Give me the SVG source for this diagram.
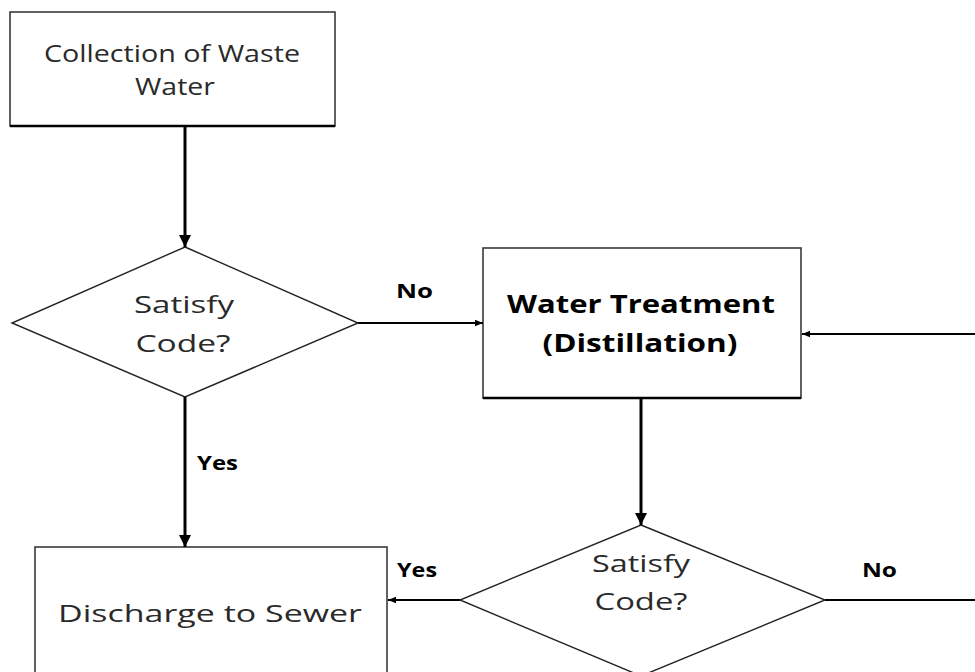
<svg xmlns="http://www.w3.org/2000/svg" width="975" height="672" viewBox="0 0 975 672">
<style>
.box{fill:#fff;stroke:#3a3a3a;stroke-width:1.6}
.dia{fill:#fff;stroke:#222;stroke-width:1.4}
.t{font-family:"Open Sans","Liberation Sans",sans-serif;font-size:24px;fill:#2a2a2a;text-anchor:middle}
.b{font-family:"Open Sans","Liberation Sans",sans-serif;font-size:25px;font-weight:bold;fill:#000;text-anchor:middle}
.lbl{font-family:"Open Sans","Liberation Sans",sans-serif;font-size:20px;font-weight:bold;fill:#000}
.c{stroke:#000;fill:none}
</style>
<defs>
<marker id="ah" viewBox="0 0 10 10" refX="10" refY="5" markerWidth="4" markerHeight="4" orient="auto" markerUnits="strokeWidth">
<path d="M0,0 L10,5 L0,10 z" fill="#000"/>
</marker>
<marker id="as" viewBox="0 0 10 10" refX="10" refY="5" markerWidth="5" markerHeight="4" orient="auto" markerUnits="strokeWidth">
<path d="M0,1 L10,5 L0,9 z" fill="#000"/>
</marker>
</defs>
<g id="n1">
<rect class="box" x="10" y="12" width="325" height="114"/>
<line x1="10" y1="126" x2="335" y2="126" stroke="#000" stroke-width="2.5"/>
<text class="t" x="172" y="62" textLength="256" lengthAdjust="spacingAndGlyphs">Collection of Waste</text>
<text class="t" x="175" y="95" textLength="80" lengthAdjust="spacingAndGlyphs">Water</text>
</g>
<g id="d1">
<polygon class="dia" points="185,247 358,323 185,397 12,323"/>
<text class="t" x="184" y="313" textLength="100" lengthAdjust="spacingAndGlyphs">Satisfy</text>
<text class="t" x="183" y="352" textLength="95" lengthAdjust="spacingAndGlyphs">Code?</text>
</g>
<g id="n2">
<rect class="box" x="483" y="248" width="318" height="150"/>
<line x1="483" y1="398" x2="801" y2="398" stroke="#000" stroke-width="2.5"/>
<text class="b" x="641" y="313" textLength="268" lengthAdjust="spacingAndGlyphs">Water Treatment</text>
<text class="b" x="640" y="352" textLength="195" lengthAdjust="spacingAndGlyphs">(Distillation)</text>
</g>
<g id="d2">
<polygon class="dia" points="641,525 825,600 641,676 460,600"/>
<text class="t" x="641" y="572" textLength="98" lengthAdjust="spacingAndGlyphs">Satisfy</text>
<text class="t" x="641" y="610" textLength="93" lengthAdjust="spacingAndGlyphs">Code?</text>
</g>
<g id="n3">
<rect class="box" x="35" y="547" width="352" height="140"/>
<text class="t" x="210" y="622" textLength="304" lengthAdjust="spacingAndGlyphs">Discharge to Sewer</text>
</g>
<g id="connectors">
<line class="c" x1="185" y1="127" x2="185" y2="247" stroke-width="3" marker-end="url(#ah)"/>
<line class="c" x1="358" y1="323" x2="483" y2="323" stroke-width="2" marker-end="url(#as)"/>
<line class="c" x1="975" y1="334" x2="802" y2="334" stroke-width="2" marker-end="url(#as)"/>
<line class="c" x1="641" y1="399" x2="641" y2="525" stroke-width="3" marker-end="url(#ah)"/>
<line class="c" x1="185" y1="397" x2="185" y2="547" stroke-width="3" marker-end="url(#ah)"/>
<line class="c" x1="460" y1="600" x2="388" y2="600" stroke-width="2" marker-end="url(#as)"/>
<line class="c" x1="825" y1="600" x2="975" y2="600" stroke-width="2"/>
<text class="lbl" x="396" y="298" textLength="37" lengthAdjust="spacingAndGlyphs">No</text>
<text class="lbl" x="197" y="470" textLength="41" lengthAdjust="spacingAndGlyphs">Yes</text>
<text class="lbl" x="397" y="577" textLength="40" lengthAdjust="spacingAndGlyphs">Yes</text>
<text class="lbl" x="862" y="577" textLength="35" lengthAdjust="spacingAndGlyphs">No</text>
</g>
</svg>
